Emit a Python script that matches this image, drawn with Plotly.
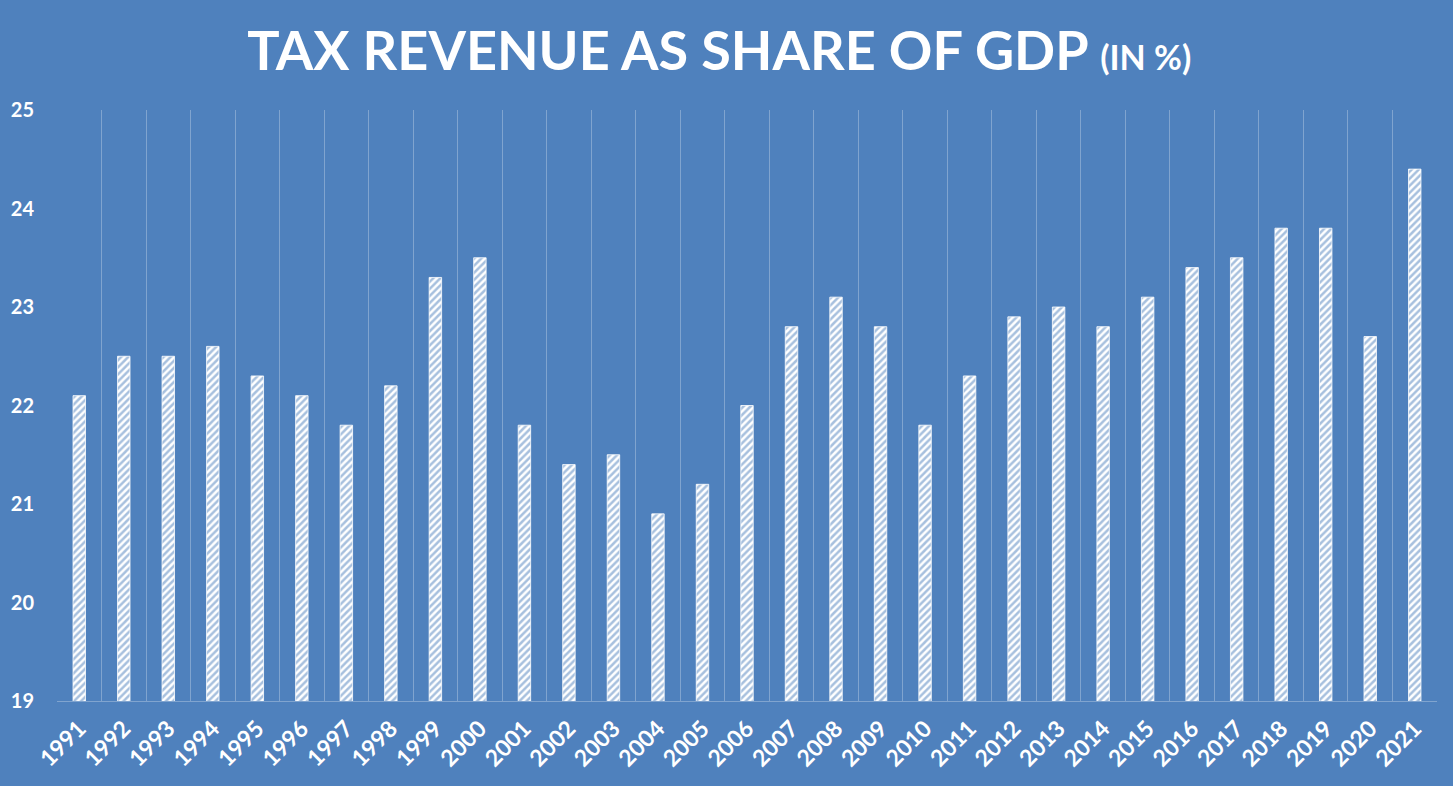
import plotly.graph_objects as go

# tax revenue as share of GDP
years = [str(y) for y in range(1991, 2022)]
tax_share = [22.1, 22.5, 22.5, 22.6, 22.3, 22.1, 21.8, 22.2, 23.3, 23.5,
             21.8, 21.4, 21.5, 20.9, 21.2, 22.0, 22.8, 23.1, 22.8, 21.8,
             22.3, 22.9, 23.0, 22.8, 23.1, 23.4, 23.5, 23.8, 23.8, 22.7,
             24.4]
y_ticks = [19, 20, 21, 22, 23, 24, 25]

bg = '#4f81bd'
font_name = 'Lato'

fig = go.Figure(go.Bar(
    x=years,
    y=tax_share,
    width=0.28,
    marker=dict(
        color='white',
        line=dict(color='white', width=0.8),
        pattern=dict(shape='/', fgcolor=bg, bgcolor='white', size=5, solidity=0.5),
    ),
))

fig.update_layout(
    width=1453, height=786,
    paper_bgcolor=bg, plot_bgcolor=bg,
    margin=dict(l=57, r=16, t=110, b=85),
    showlegend=False,
    title=dict(
        text='TAX REVENUE AS SHARE OF GDP <span style="font-size:34px">(IN %)</span>',
        x=0.495, xanchor='center', y=0.935, yanchor='middle',
        font=dict(family=font_name, size=54, color='white', weight='bold'),
    ),
)

fig.update_xaxes(
    type='category',
    tickson='boundaries',
    automargin=False,
    showgrid=True, gridcolor='rgba(255,255,255,0.28)', gridwidth=1,
    showline=True, linecolor='rgba(255,255,255,0.28)', linewidth=1,
    ticks='', tickangle=-45,
    ticklabelstandoff=4,
    tickfont=dict(family=font_name, size=23, color='white', weight='bold'),
)
fig.update_yaxes(
    range=[19, 25],
    tickvals=y_ticks,
    automargin=False,
    showgrid=False, zeroline=False,
    ticks='', ticklabelstandoff=22,
    tickfont=dict(family=font_name, size=20, color='white', weight='bold'),
)

# page margin off so the chart sits in the top-left corner
fig.write_html("out.html", config={'displayModeBar': False},
               post_script="document.body.style.margin='0';")
